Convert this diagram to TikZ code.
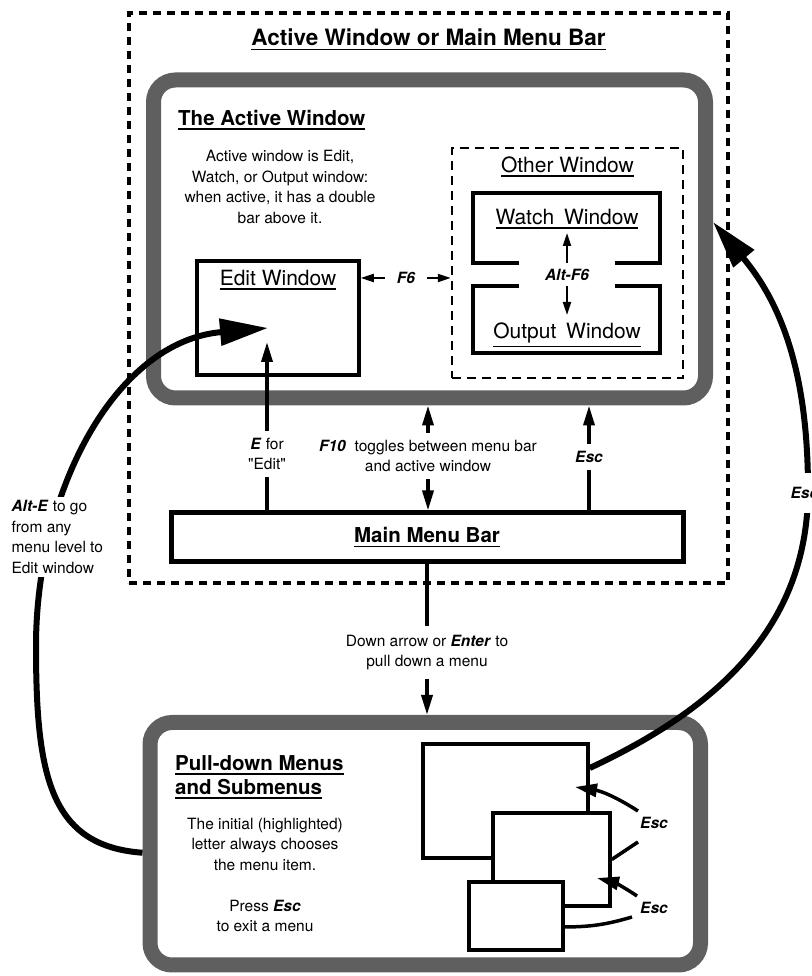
\documentclass[tikz,border=0pt]{standalone}
\usepackage{fontspec}
\setmainfont{TeX Gyre Heros}
\usepackage{tikz}
\usetikzlibrary{positioning, arrows.meta, calc}
\definecolor{mmGray}{RGB}{95, 95, 95}
\newcommand{\bodysize}{\fontsize{15.5}{20.5}\selectfont}
\newcommand{\keyname}[1]{\textbf{\textit{#1}}}
\newcommand{\ulbar}[1]{\vtop{\hbox{#1}\kern 2.5pt\hrule height 1.8pt}}
\tikzset{
    zone/.style={
        draw,
        line width=3.5pt,
        dash pattern=on 8pt off 6pt,
        inner sep=0pt
    },
    otherzone/.style={
        draw,
        line width=2.5pt,
        dash pattern=on 9pt off 6pt,
        inner sep=0pt
    },
    panel/.style={
        draw=mmGray,
        line width=15pt,
        rounded corners=22pt,
        inner sep=0pt
    },
    winbox/.style={
        draw,
        fill=white,
        line width=3.5pt,
        inner sep=0pt
    },
    barbox/.style={
        draw,
        line width=5pt,
        inner sep=0pt,
        font=\fontsize{20.5}{24}\selectfont\bfseries
    },
    bracket/.style={
        line width=3.5pt
    },
    titletext/.style={
        font=\fontsize{22.5}{27}\selectfont\bfseries,
        inner sep=0pt
    },
    headtext/.style={
        font=\fontsize{20.5}{24}\selectfont\bfseries,
        inner sep=0pt
    },
    wintext/.style={
        font=\fontsize{21}{25}\selectfont,
        inner sep=0pt
    },
    note/.style={
        font=\bodysize,
        align=center
    },
    keylabel/.style={
        font=\bodysize\bfseries\itshape
    },
    plainline/.style={
        line width=3.5pt
    },
    toggle/.style={
        line width=3.5pt,
        -{Triangle[length=20pt, width=11pt]}
    },
    thinarrow/.style={
        line width=2pt,
        -{Triangle[length=13pt, width=8pt]}
    },
    smallarc/.style={
        line width=3.5pt,
        -{Triangle[length=22pt, width=13pt]}
    },
    bigarc/.style={
        line width=6pt,
        -{Triangle[length=48pt, width=26pt]}
    }
}

\begin{document}
\begin{tikzpicture}[x=1pt, y=1pt]
  \useasboundingbox (0,0) rectangle (811,976);

  % Frames
  \node[zone, minimum width=599pt, minimum height=570pt] (outer) at (428.5,678) {};
  \node[panel, minimum width=552pt, minimum height=318pt] (active) at (429.5,737) {};
  \node[panel, minimum width=550.5pt, minimum height=242.5pt] (pulldown) at (425.25,132.25) {};
  \node[titletext, anchor=base] (title) at (428.5,930) {\ulbar{Active Window or Main Menu Bar}};

  % Active window
  \node[headtext, anchor=base west] (activehead) at (178,850.5) {\ulbar{The Active Window}};
  \node[note] (activenote) at (280,789) {Active window is Edit,\\Watch, or Output window:\\when active, it has a double\\bar above it.};
  \node[winbox, minimum width=162pt, minimum height=114pt] (edit) at (278,658) {};
  \node[wintext, anchor=base] (edittitle) at (278,690.5) {\ulbar{Edit Window}};

  % Other window
  \node[otherzone, minimum width=231pt, minimum height=230pt] (other) at (567.5,713) {};
  \node[wintext, anchor=base] (othertitle) at (567.5,803.5) {\ulbar{Other Window}};
  \draw[bracket] (519,713) -- (473,713) -- (473,783) -- (660,783) -- (660,713) -- (615,713);
  \draw[bracket] (519,690) -- (473,690) -- (473,623) -- (660,623) -- (660,690) -- (615,690);
  \node[wintext, anchor=base] (watchtitle) at (567,751.5) {\ulbar{Watch\hspace{4pt} Window}};
  \node[wintext, anchor=base] (outputtitle) at (567,637.5) {\ulbar{Output\hspace{4pt} Window}};
  \node[keylabel, inner ysep=6pt] (altf6) at (567,701.5) {Alt-F6};
  \draw[thinarrow] (altf6.north) -- (567,743);
  \draw[thinarrow] (altf6.south) -- (567,661);
  \node[keylabel, inner xsep=12pt] (f6) at (406,698) {F6};
  \draw[thinarrow] (f6.west) -- (f6.west -| edit.east);
  \draw[thinarrow] (f6.east) -- (f6.east -| other.west);

  % Main menu bar
  \node[barbox, minimum width=512pt, minimum height=49pt] (bar) at (427,438.5) {\ulbar{Main Menu Bar}};
  \node[note, inner sep=7pt] (efor) at (267,522) {\keyname{E} for\\\textquotedbl Edit\textquotedbl};
  \node[note, inner sep=7pt] (f10) at (428,520) {\keyname{F10}\ \ toggles between menu bar\\and active window};
  \node[keylabel, inner sep=7pt] (escup) at (589,519) {Esc};
  \draw[toggle] (efor.north) -- (267,634);
  \draw[plainline] (efor.south) -- (efor.south |- bar.north);
  \draw[toggle] (f10.north) -- (f10.north |- active.south);
  \draw[toggle] (f10.south) -- (f10.south |- bar.north);
  \draw[toggle] (escup.north) -- (escup.north |- active.south);
  \draw[plainline] (escup.south) -- (escup.south |- bar.north);

  \node[note, inner ysep=9pt] (down) at (427,323.5) {Down arrow or \keyname{Enter} to\\pull down a menu};
  \draw[plainline] (bar.south) -- (down.north);
  \draw[toggle] (down.south) -- (down.south |- pulldown.north);

  % Pull-down menus
  \node[headtext, anchor=north west, align=left] (pullhead) at (175,221) {\ulbar{Pull-down Menus}\\\ulbar{and Submenus}};
  \node[note] (pullnote) at (265,101) {The initial (highlighted)\\letter always chooses\\the menu item.\\[20.5pt]Press \keyname{Esc}\\to exit a menu};
  \node[winbox, minimum width=165pt, minimum height=114pt] (menuA) at (505.5,175) {};
  \node[winbox, minimum width=117pt, minimum height=93pt] (menuB) at (551.5,116.5) {};
  \node[winbox, minimum width=94pt, minimum height=68pt] (menuC) at (516,60) {};
  \node[keylabel] (escA) at (654,153) {Esc};
  \node[keylabel] (escB) at (654,68) {Esc};
  \coordinate (escAlow) at (638,134);
  \coordinate (escAhigh) at (638,165);
  \coordinate (tipA) at (575,189);
  \coordinate (escBlow) at (632,59);
  \coordinate (escBhigh) at (637,80);
  \coordinate (tipB) at (597,98);
  \draw[plainline] (menuB.east) -- (escAlow);
  \draw[smallarc] (escAhigh) to[bend right=12] (tipA);
  \draw[plainline] ([yshift=-11pt]menuC.east) to[bend right=8] (escBlow);
  \draw[smallarc] (escBhigh) to[bend right=10] (tipB);

  % Long arcs
  \coordinate (escstart) at ([yshift=33pt]menuA.east);
  \coordinate (escturn) at (808,486);
  \coordinate (esctip) at ([yshift=17pt]active.east);
  \draw[bigarc] (escstart) to[out=25,in=-90] (escturn) to[out=90,in=-50] (esctip);
  \node[keylabel, fill=white, inner ysep=14pt, anchor=west] (escright) at (787,483) {Esc};

  \coordinate (altestart) at ([yshift=-9pt]pulldown.west);
  \coordinate (alteturn) at (36,330);
  \coordinate (altetip) at (268,648);
  \draw[bigarc] (altestart) .. controls (50,130) and (36,200) .. (alteturn) to[out=90,in=185] (altetip);
  \node[note, align=left, fill=white, anchor=west] (altelabel) at (8,439) {\keyname{Alt-E} to go\\from any\\menu level to\\Edit window};
\end{tikzpicture}
\end{document}
